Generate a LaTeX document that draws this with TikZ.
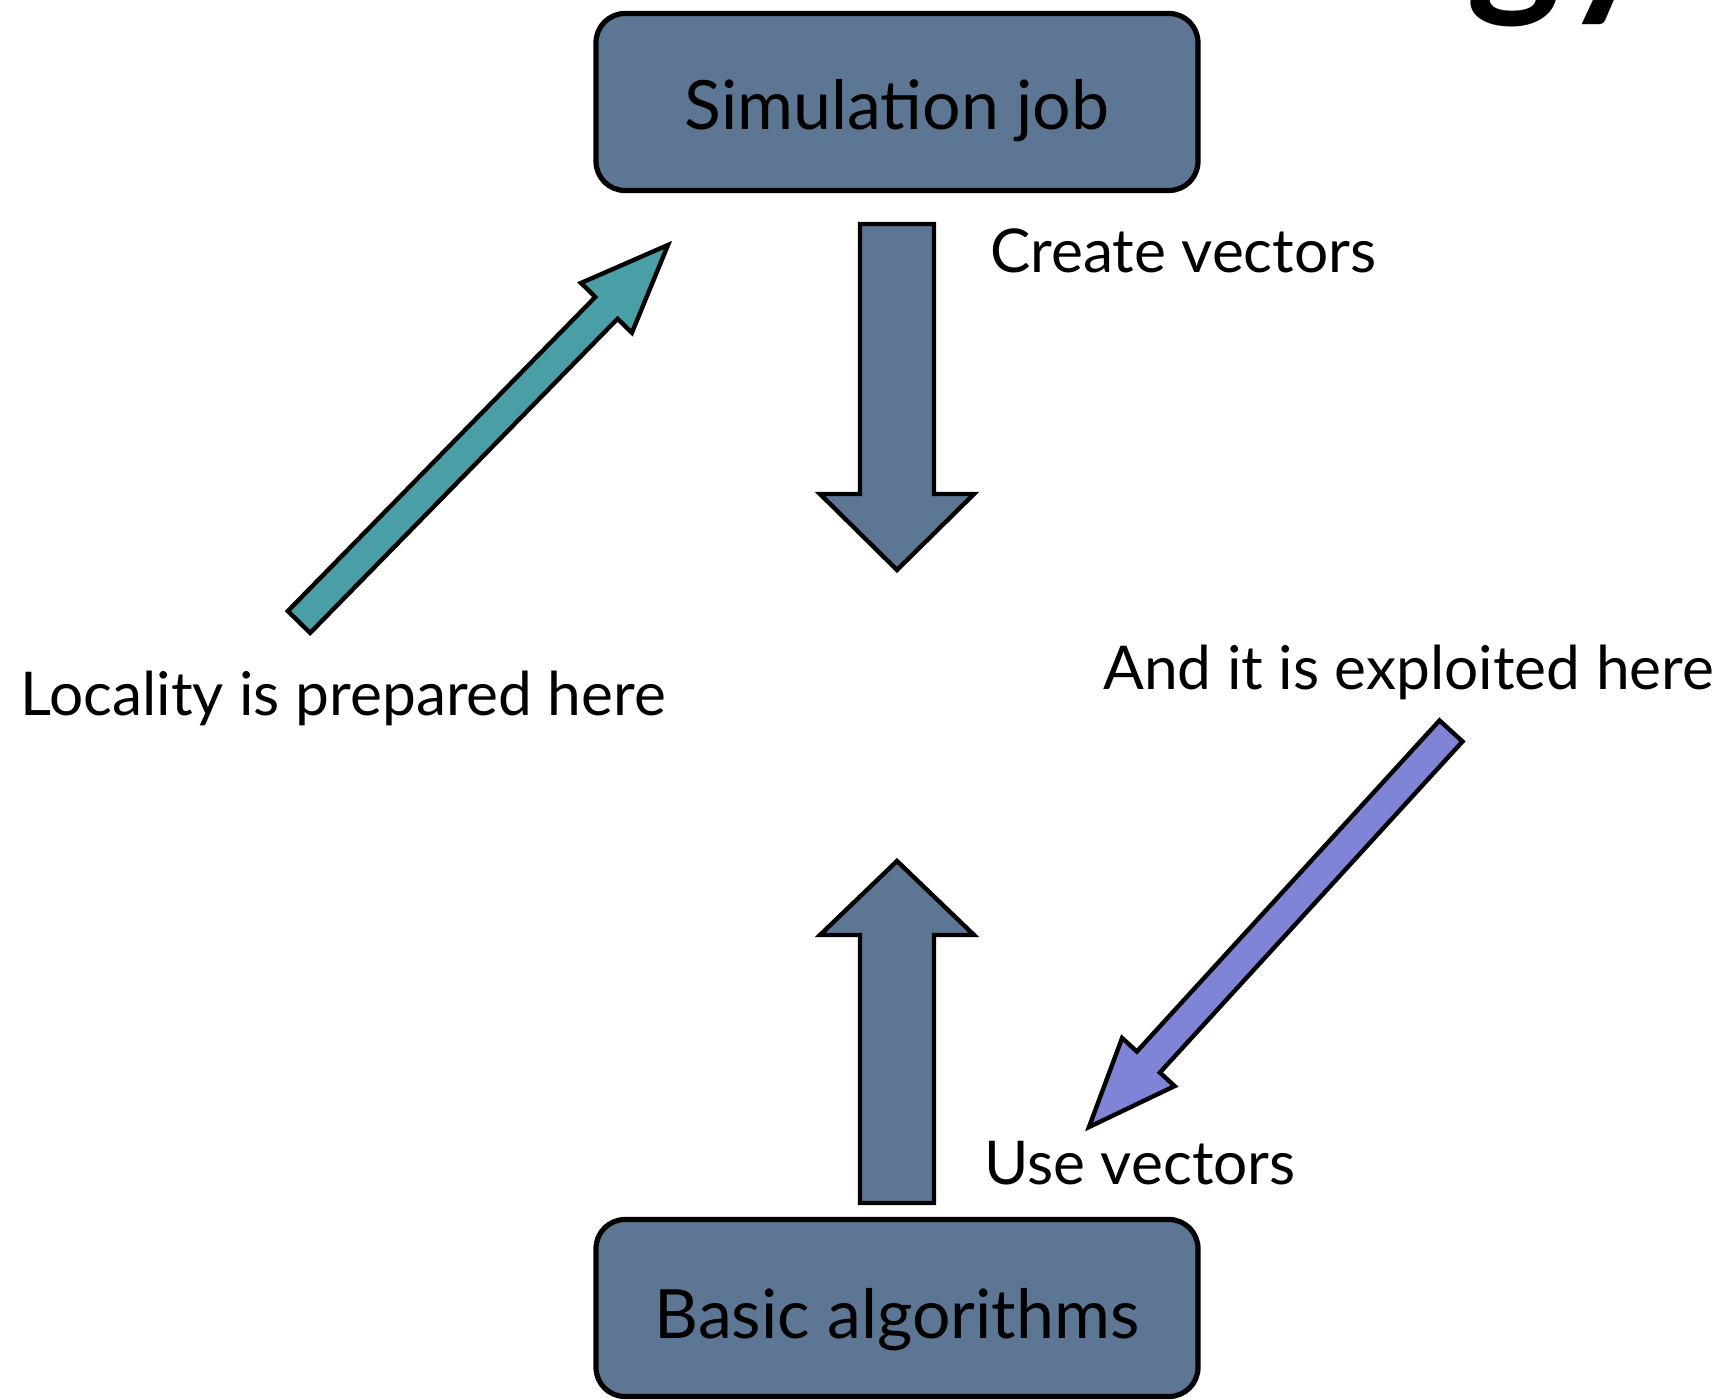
\documentclass[tikz,border=0pt]{standalone}
\usepackage{fontspec}
\setmainfont{Lato}
\usetikzlibrary{calc}

\definecolor{slate}{HTML}{5D7693}
\definecolor{tealfill}{HTML}{4A9EA6}
\definecolor{violetfill}{HTML}{7F84D6}

% block arrow: tail, tip, shaft half-width, head half-width, head length, fill
\newcommand{\blockarrow}[6]{%
  \path ($(#2)!#5!(#1)$) coordinate (hb);
  \draw[arrowline, fill=#6]
    ($(#1)!#3!90:(#2)$) -- ($(hb)!#3!90:(#2)$) -- ($(hb)!#4!90:(#2)$) -- (#2)
    -- ($(hb)!#4!-90:(#2)$) -- ($(hb)!#3!-90:(#2)$) -- ($(#1)!#3!-90:(#2)$) -- cycle;
}

\begin{document}
\begin{tikzpicture}[x=0.5pt, y=-0.5pt,
  arrowline/.style={draw=black, line width=2.2pt, line join=miter},
  jobbox/.style={draw=black, line width=2.6pt, fill=slate, rounded corners=14.5pt,
    minimum width=301pt, minimum height=88.5pt, inner sep=0pt},
  boxtext/.style={anchor=base, inner sep=0pt, font=\fontsize{34}{40}\selectfont},
  note/.style={anchor=base west, inner sep=0pt, font=\fontsize{30.2}{36}\selectfont}]
\useasboundingbox (0,0) rectangle (1724,1400);

% tail of the slide title, cut by the top edge
\node[anchor=base west, inner sep=0pt, font=\fontsize{90}{104}\selectfont\bfseries] (title) at (1466,-5) {gy};

% the two stages
\node[jobbox] (sim) at (897,102) {};
\node[boxtext] (simtxt) at (897,130) {Simulation job};
\node[jobbox] (basic) at (897,1308) {};
\node[boxtext] (basictxt) at (897,1338) {Basic algorithms};

% arrow end points
\coordinate (downtail) at (897,224);
\coordinate (downtip) at (897,570);
\coordinate (uptail) at (897,1203);
\coordinate (uptip) at (897,861);
\coordinate (loctail) at (299,622);
\coordinate (loctip) at (668,245);
\coordinate (exptail) at (1451,731);
\coordinate (exptip) at (1089,1127);

\blockarrow{downtail}{downtip}{18.5pt}{38.5pt}{38pt}{slate}
\blockarrow{uptail}{uptip}{18.5pt}{38.5pt}{37pt}{slate}
\blockarrow{loctail}{loctip}{7.8pt}{17.8pt}{44pt}{tealfill}
\blockarrow{exptail}{exptip}{7.8pt}{17.8pt}{44pt}{violetfill}

% labels
\node[note] (create) at (990,273) {Create vectors};
\node[note] (locality) at (20,716) {Locality is prepared here};
\node[note] (exploit) at (1103,690) {And it is exploited here};
\node[note] (use) at (984,1184) {Use vectors};
\end{tikzpicture}
\end{document}
